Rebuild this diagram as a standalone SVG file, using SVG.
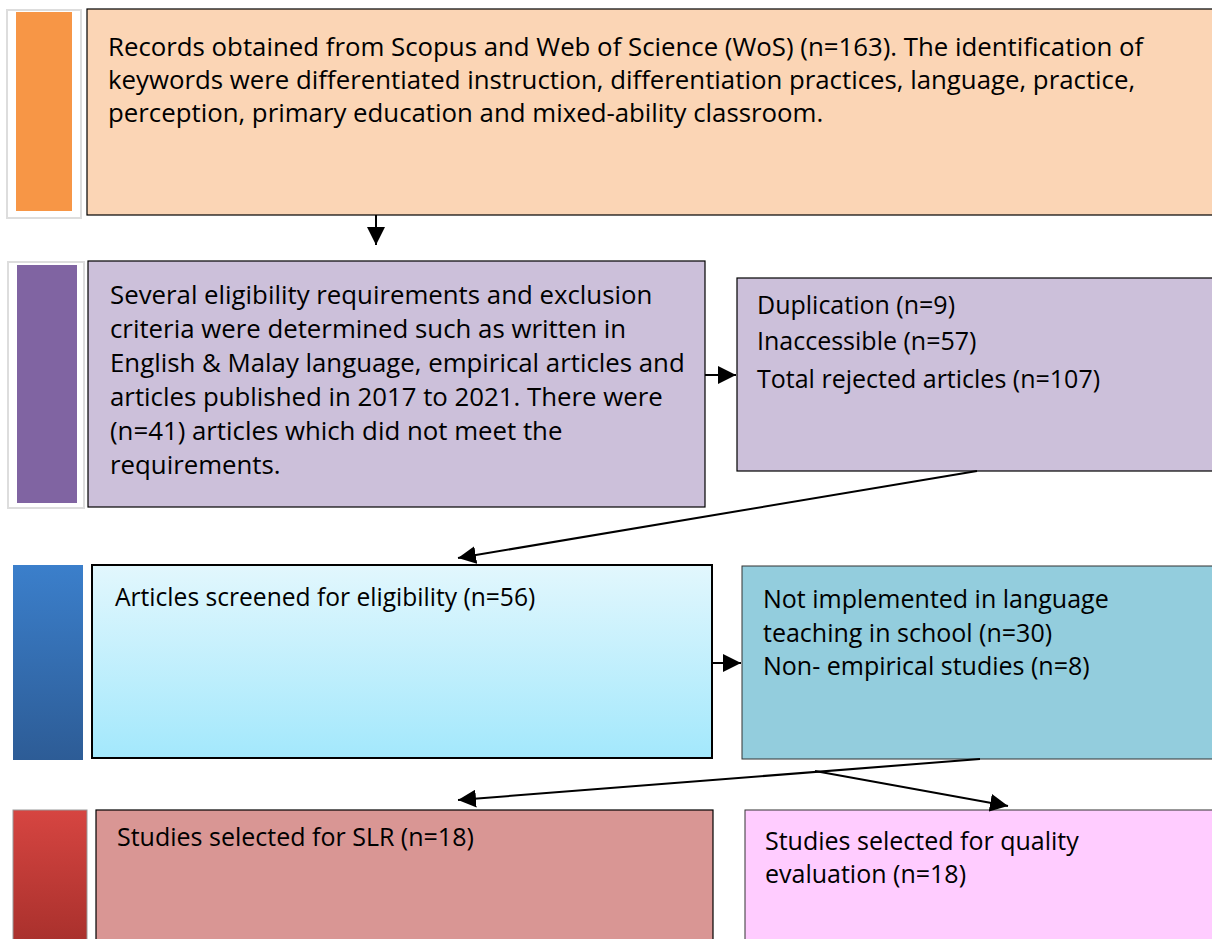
<svg xmlns="http://www.w3.org/2000/svg" width="1212" height="939" viewBox="0 0 1212 939">
<defs>
<style>
text{font-family:"Open Sans","Liberation Sans",Arial,sans-serif;font-size:25px;fill:#000}
.big{font-size:25.8px}
.box{stroke:#000;stroke-width:1.2}
.conn{stroke:#000;stroke-width:2;fill:none}
</style>
<marker id="ah" viewBox="0 0 10 10" refX="10" refY="5" markerWidth="9" markerHeight="9" orient="auto" markerUnits="strokeWidth">
<path d="M0,0 L10,5 L0,10 z" fill="#000"/>
</marker>
<linearGradient id="lb" x1="0" y1="0" x2="0" y2="1"><stop offset="0" stop-color="#E2F7FD"/><stop offset="1" stop-color="#A3E8FC"/></linearGradient>
<linearGradient id="bb" x1="0" y1="0" x2="0" y2="1"><stop offset="0" stop-color="#3B7FCB"/><stop offset="1" stop-color="#2D5C96"/></linearGradient>
<linearGradient id="rb" x1="0" y1="0" x2="0" y2="1"><stop offset="0" stop-color="#D64541"/><stop offset="1" stop-color="#A8302C"/></linearGradient>
</defs>

<g id="bar1">
<rect x="7" y="10" width="74" height="208" fill="#fff" stroke="#ddd" stroke-width="2"/>
<rect x="16" y="12" width="56" height="199" fill="#F79646"/>
</g>
<g id="box1">
<rect class="box" x="87" y="9" width="1130" height="206" fill="#FBD5B5"/>
<text class="big" x="108" y="56">Records obtained from Scopus and Web of Science (WoS) (n=163). The identification of</text>
<text class="big" x="108" y="89">keywords were differentiated instruction, differentiation practices, language, practice,</text>
<text class="big" x="108" y="122">perception, primary education and mixed-ability classroom.</text>
</g>

<g id="bar2">
<rect x="8" y="262" width="76" height="246" fill="#fff" stroke="#ddd" stroke-width="2"/>
<rect x="17" y="265" width="60" height="238" fill="#8064A2"/>
</g>
<g id="box2">
<rect class="box" x="88" y="261" width="617" height="246" fill="#CCC0DA"/>
<text class="big" x="110" y="304">Several eligibility requirements and exclusion</text>
<text class="big" x="110" y="338">criteria were determined such as written in</text>
<text class="big" x="110" y="372">English &amp; Malay language, empirical articles and</text>
<text class="big" x="110" y="406">articles published in 2017 to 2021. There were</text>
<text class="big" x="110" y="440">(n=41) articles which did not meet the</text>
<text class="big" x="110" y="474">requirements.</text>
</g>
<g id="side2">
<rect class="box" x="737" y="278" width="480" height="193" fill="#CCC0DA"/>
<text x="757" y="314">Duplication (n=9)</text>
<text x="757" y="350">Inaccessible (n=57)</text>
<text x="757" y="388">Total rejected articles (n=107)</text>
</g>

<g id="bar3">
<rect x="13" y="565" width="70" height="195" fill="url(#bb)"/>
</g>
<g id="box3">
<rect x="92" y="565" width="620" height="193" fill="url(#lb)" stroke="#000" stroke-width="2"/>
<text x="115" y="606" style="font-size:24.6px">Articles screened for eligibility (n=56)</text>
</g>
<g id="side3">
<rect x="742" y="566" width="475" height="193" fill="#93CDDD" stroke="#333" stroke-width="1"/>
<text x="763" y="608">Not implemented in language</text>
<text x="763" y="642">teaching in school (n=30)</text>
<text x="763" y="675">Non- empirical studies (n=8)</text>
</g>

<g id="bar4">
<rect x="13" y="810" width="74" height="135" fill="url(#rb)" stroke="#999" stroke-width="1"/>
</g>
<g id="box4">
<rect class="box" x="96" y="810" width="617" height="140" fill="#D99694"/>
<text x="117" y="846">Studies selected for SLR (n=18)</text>
</g>
<g id="side4">
<rect x="745" y="810" width="472" height="140" fill="#FFCCFF" stroke="#333" stroke-width="1"/>
<text x="765" y="850">Studies selected for quality</text>
<text x="765" y="883">evaluation (n=18)</text>
</g>

<g id="connectors">
<line class="conn" x1="376" y1="215" x2="376" y2="245" marker-end="url(#ah)"/>
<line class="conn" x1="705" y1="375" x2="736" y2="375" marker-end="url(#ah)"/>
<line class="conn" x1="977" y1="471" x2="458" y2="558" marker-end="url(#ah)"/>
<line class="conn" x1="712" y1="663" x2="741" y2="663" marker-end="url(#ah)"/>
<line class="conn" x1="980" y1="759" x2="458" y2="800" marker-end="url(#ah)"/>
<line class="conn" x1="815" y1="771" x2="1008" y2="806" marker-end="url(#ah)"/>
</g>
</svg>
